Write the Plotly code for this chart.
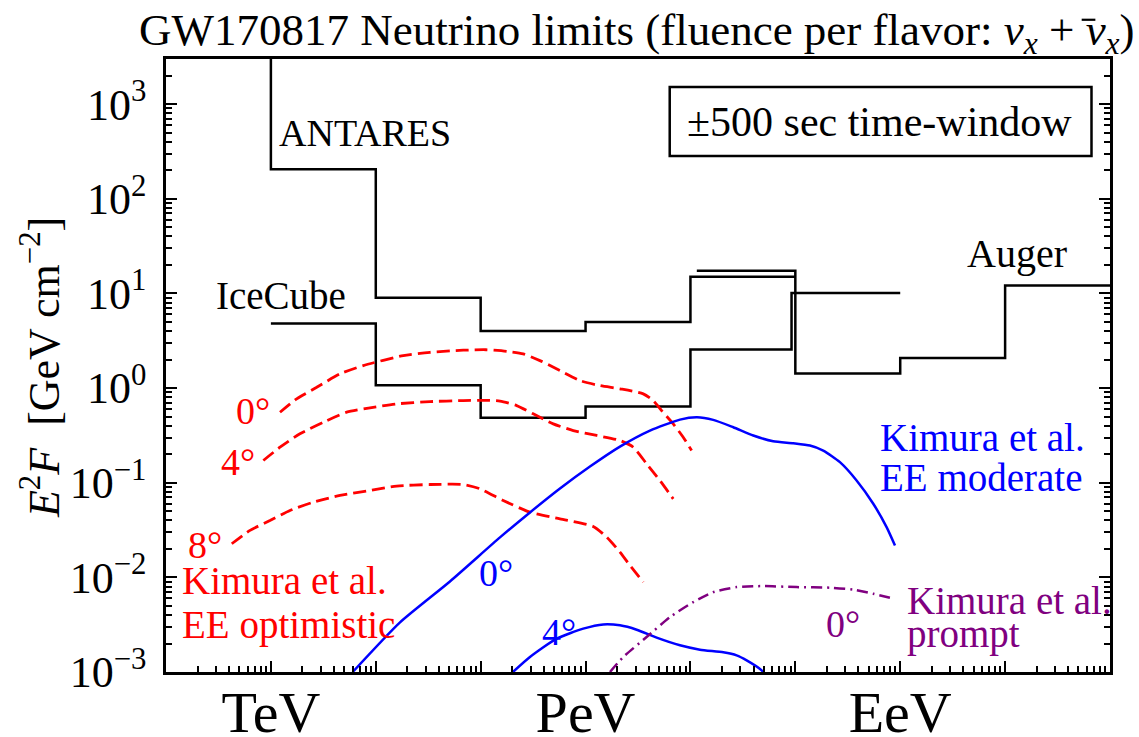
import numpy as np
import plotly.graph_objects as go

FONT = "Liberation Serif"

# ---- step-function upper limits: bin edges [GeV], E^2 F [GeV cm^-2] ----
antares_edges = [1e2, 1e3, 1e4, 1e5, 1e6, 1e7, 1e8]
antares_e2f = [1e4, 205.0, 9.0, 4.0, 5.0, 15.0]

icecube_edges = [1e3, 1e4, 1e5, 1e6, 1e7, 9.2e7, 1e9]
icecube_e2f = [4.8, 1.07, 0.486, 0.638, 2.55, 10.1]

auger_edges = [1.15e7, 1e8, 1e9, 1e10, 1e11]
auger_e2f = [17.4, 1.43, 2.08, 12.1]

# ---- Kimura et al. model fluences: log10(E/GeV), log10(E^2 F) ----
ee_opt_0_logE = [3.087, 3.246, 3.437, 3.659, 3.881, 4.262, 4.517, 4.834, 5.05, 5.248, 5.406,
                 5.565, 5.756, 5.947, 6.137, 6.328, 6.550, 6.645, 6.725, 6.836, 6.931, 7.011]
ee_opt_0_logF = [-0.255, -0.114, 0.008, 0.150, 0.238, 0.343, 0.378, 0.400, 0.405, 0.388, 0.361,
                 0.290, 0.185, 0.079, 0.026, -0.008, -0.061, -0.132, -0.238, -0.378, -0.519, -0.660]

ee_opt_4_logE = [2.928, 3.087, 3.277, 3.500, 3.723, 3.945, 4.199, 4.517, 4.834, 5.05, 5.184,
                 5.343, 5.501, 5.692, 5.883, 6.106, 6.328, 6.455, 6.582, 6.708, 6.836]
ee_opt_4_logF = [-0.765, -0.625, -0.483, -0.361, -0.255, -0.209, -0.167, -0.143, -0.132, -0.130, -0.137,
                 -0.185, -0.272, -0.378, -0.449, -0.501, -0.554, -0.625, -0.800, -0.976, -1.170]

ee_opt_8_logE = [2.627, 2.801, 2.991, 3.182, 3.404, 3.659, 3.945, 4.199, 4.517, 4.834,
                 4.993, 5.215, 5.470, 5.756, 6.073, 6.201, 6.328, 6.423, 6.550]
ee_opt_8_logF = [-1.645, -1.504, -1.399, -1.293, -1.206, -1.135, -1.082, -1.035, -1.019, -1.019,
                 -1.064, -1.188, -1.311, -1.381, -1.462, -1.575, -1.733, -1.874, -2.050]

ee_mod_0_logE = [3.78, 4.231, 4.707, 5.184, 5.470, 5.756, 6.042, 6.328, 6.614, 6.900, 7.062,
                 7.217, 7.408, 7.599, 7.789, 7.980, 8.139, 8.266, 8.425, 8.584, 8.743, 8.870, 8.950]
ee_mod_0_logF = [-3.0, -2.475, -2.043, -1.578, -1.314, -1.061, -0.829, -0.618, -0.449, -0.333, -0.308,
                 -0.336, -0.414, -0.501, -0.562, -0.583, -0.607, -0.660, -0.783, -0.976, -1.222, -1.469, -1.663]

ee_mod_4_logE = [5.308, 5.470, 5.724, 5.978, 6.169, 6.328, 6.487, 6.678, 6.900, 7.091,
                 7.313, 7.440, 7.536, 7.679, 7.691]
ee_mod_4_logF = [-3.0, -2.842, -2.648, -2.542, -2.497, -2.507, -2.553, -2.637, -2.718, -2.764,
                 -2.792, -2.824, -2.877, -2.982, -3.0]

prompt_0_logE = [6.233, 6.359, 6.582, 6.805, 7.027, 7.217, 7.440, 7.694, 8.012, 8.330, 8.552, 8.743, 8.933]
prompt_0_logF = [-3.0, -2.842, -2.631, -2.420, -2.261, -2.156, -2.103, -2.092, -2.103, -2.109, -2.130, -2.173, -2.225]

# ---- axis ticks ----
x_major = [10.0 ** k for k in range(2, 12)]
x_labels = {3: "TeV", 6: "PeV", 9: "EeV"}
x_text = [x_labels.get(k, "") for k in range(2, 12)]
x_minor = [m * 10.0 ** k for k in range(2, 11) for m in range(2, 10)]

y_major = [10.0 ** k for k in range(-3, 4)]
y_text = ["10<sup>%s</sup>" % (str(k).replace("-", "\u2212")) for k in range(-3, 4)]
y_minor = [m * 10.0 ** k for k in range(-3, 4) for m in range(2, 10) if m * 10.0 ** k <= 3000]

RED, BLUE, PURPLE = "#ff0000", "#0000ff", "#800080"

fig = go.Figure()


def step(edges, vals):
    fig.add_trace(go.Scatter(x=edges, y=list(vals) + [vals[-1]], mode="lines",
                             line=dict(color="black", width=2.5, shape="hv"),
                             hoverinfo="skip"))


def curve(logE, logF, color, dash, width=2.5):
    fig.add_trace(go.Scatter(x=10 ** np.array(logE), y=10 ** np.array(logF), mode="lines",
                             line=dict(color=color, width=width, dash=dash, shape="spline", smoothing=0.6),
                             hoverinfo="skip"))


step(antares_edges, antares_e2f)
step(icecube_edges, icecube_e2f)
step(auger_edges, auger_e2f)

red_dash = "13px,6px"
curve(ee_opt_0_logE, ee_opt_0_logF, RED, red_dash, 2.8)
curve(ee_opt_4_logE, ee_opt_4_logF, RED, red_dash, 2.8)
curve(ee_opt_8_logE, ee_opt_8_logF, RED, red_dash, 2.8)
curve(ee_mod_0_logE, ee_mod_0_logF, BLUE, "solid")
curve(ee_mod_4_logE, ee_mod_4_logF, BLUE, "solid")
curve(prompt_0_logE, prompt_0_logF, PURPLE, "11px,5px,2px,5px")

TXT = 38


def label(text, lx, ly, color="black", size=TXT, xanchor="center", **kw):
    fig.add_annotation(x=lx, y=ly, xref="x", yref="y", text=text, showarrow=False,
                       xanchor=xanchor, yanchor="middle",
                       font=dict(family=FONT, size=size, color=color), **kw)


label("ANTARES", 3.897, 2.697)
label("IceCube", 3.096, 0.976, size=39)
label("Auger", 10.113, 1.420, size=40)
label("\u00b1500 sec time-window", 8.80, 2.812, size=42)

label("0\u00b0", 2.829, -0.238, RED)
label("4\u00b0", 2.686, -0.786, RED)
label("8\u00b0", 2.372, -1.663, RED)
label("Kimura et al.", 2.133, -2.03, RED, xanchor="left", size=39)
label("EE optimistic", 2.133, -2.50, RED, xanchor="left", size=39)

label("0\u00b0", 5.146, -1.958, BLUE)
label("4\u00b0", 5.746, -2.581, BLUE)
label("Kimura et al.", 8.787, -0.52, BLUE, xanchor="left", size=39)
label("EE moderate", 8.787, -0.945, BLUE, xanchor="left", size=39)

label("0\u00b0", 8.454, -2.497, PURPLE)
label("Kimura et al.", 9.045, -2.24, PURPLE, xanchor="left", size=39)
label("prompt", 9.045, -2.60, PURPLE, xanchor="left", size=39)

# framed time-window box
fig.add_shape(type="rect", xref="paper", yref="paper",
              x0=0.5336, x1=0.9804, y0=0.8417, y1=0.9543,
              line=dict(color="black", width=2.5), fillcolor="rgba(0,0,0,0)")

# title
fig.add_annotation(xref="paper", yref="paper", x=0.4992, y=1.0424, showarrow=False,
                   xanchor="center", yanchor="middle",
                   text="GW170817 Neutrino limits (fluence per flavor: "
                        "<i>\u03bd</i><sub><i>x</i></sub> + <i>\u03bd</i><sub><i>x</i></sub>)",
                   font=dict(family=FONT, size=45, color="black"))
# bar over the antineutrino symbol in the title
fig.add_shape(type="line", xref="paper", yref="paper",
              x0=0.9700, x1=0.9845, y0=1.0640, y1=1.0640,
              line=dict(color="black", width=2.2))

# y-axis title
fig.add_annotation(xref="paper", yref="paper", x=-0.1323, y=0.496, showarrow=False,
                   textangle=-90, xanchor="center", yanchor="middle",
                   text="<i>E</i><sup>2</sup><i>F</i>  [GeV cm<sup>\u22122</sup>]",
                   font=dict(family=FONT, size=44, color="black"))

axis_common = dict(type="log", showgrid=False, zeroline=False, showline=True, automargin=False,
                   linecolor="black", linewidth=2.5, ticks="inside", tickcolor="black",
                   tickwidth=2, ticklen=11, tickmode="array")

fig.update_layout(
    width=1139, height=737,
    margin=dict(l=166, r=28.5, t=59, b=65.3, autoexpand=False),
    paper_bgcolor="white", plot_bgcolor="white",
    showlegend=False,
    font=dict(family=FONT, color="black"),
    xaxis=dict(axis_common, range=[2, 11], tickvals=x_major, ticktext=x_text, mirror=True,
               tickfont=dict(family=FONT, size=58), ticklabelstandoff=-12,
               minor=dict(tickmode="array", tickvals=x_minor, ticks="inside", ticklen=6,
                          tickwidth=1.5, tickcolor="black", showgrid=False)),
    yaxis=dict(axis_common, range=[-3, np.log10(3000)], tickvals=y_major, ticktext=y_text,
               mirror="allticks", tickfont=dict(family=FONT, size=44), ticklabelstandoff=8,
               minor=dict(tickmode="array", tickvals=y_minor, ticks="inside", ticklen=6,
                          tickwidth=1.5, tickcolor="black", showgrid=False)),
)

fig.write_html("out.html")
